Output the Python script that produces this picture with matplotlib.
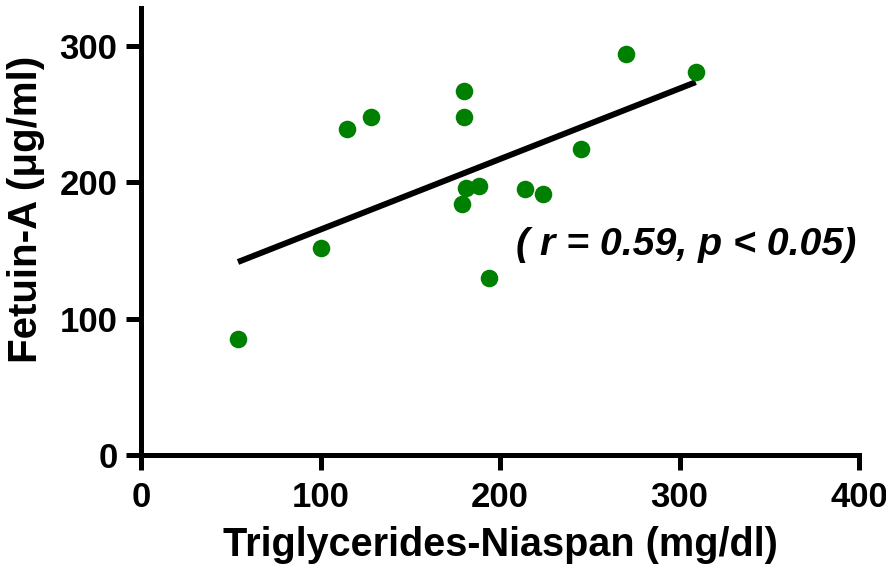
import numpy as np
import matplotlib.pyplot as plt
from matplotlib import font_manager

# Triglycerides (mg/dl) vs Fetuin-A (ug/ml)
triglycerides = [54, 100, 115, 128, 180, 180, 181, 188, 179, 194, 214, 224, 245, 270, 309]
fetuin_a = [85, 152, 239, 248, 267, 248, 196, 197, 184, 130, 195, 191, 224, 294, 281]

x_ticks = [0, 100, 200, 300, 400]
y_ticks = [0, 100, 200, 300]

names = {f.name for f in font_manager.fontManager.ttflist}
family = 'Liberation Sans Narrow' if 'Liberation Sans Narrow' in names else 'Liberation Sans'
plt.rcParams['font.family'] = [family, 'DejaVu Sans']
plt.rcParams['font.weight'] = 'bold'

fig = plt.figure(figsize=(8.87, 5.77), dpi=100)
ax = fig.add_axes([0.159, 0.2114, 0.8095, 0.7755])

ax.scatter(triglycerides, fetuin_a, s=160, color='#008000', zorder=3, linewidths=0)

# linear fit through the points
slope, intercept = np.polyfit(triglycerides, fetuin_a, 1)
fx = np.array([min(triglycerides), max(triglycerides)])
ax.plot(fx, slope * fx + intercept, color='black', lw=4.3, solid_capstyle='butt', zorder=2)

ax.text(209, 154, '( r = 0.59, p < 0.05)', fontsize=28.3, fontstyle='italic',
        fontweight='bold', va='center', ha='left')

ax.set_xlim(0, 400)
ax.set_ylim(0, 328)
ax.set_xticks(x_ticks)
ax.set_yticks(y_ticks)

for side in ['top', 'right']:
    ax.spines[side].set_visible(False)
for side in ['left', 'bottom']:
    ax.spines[side].set_linewidth(3.6)
    ax.spines[side].set_capstyle('projecting')

ax.tick_params(axis='both', direction='out', length=11, width=3.6, labelsize=25)
ax.tick_params(axis='x', pad=8)
ax.tick_params(axis='y', pad=6)
for lab in ax.get_xticklabels() + ax.get_yticklabels():
    lab.set_fontweight('bold')

ax.set_xlabel('Triglycerides-Niaspan (mg/dl)', fontsize=28.5, fontweight='bold', labelpad=8)
ax.set_ylabel('Fetuin-A (\u03bcg/ml)', fontsize=29, fontweight='bold')
ax.yaxis.set_label_coords(-0.134, 0.548)

fig.savefig('out.png', dpi=100)
